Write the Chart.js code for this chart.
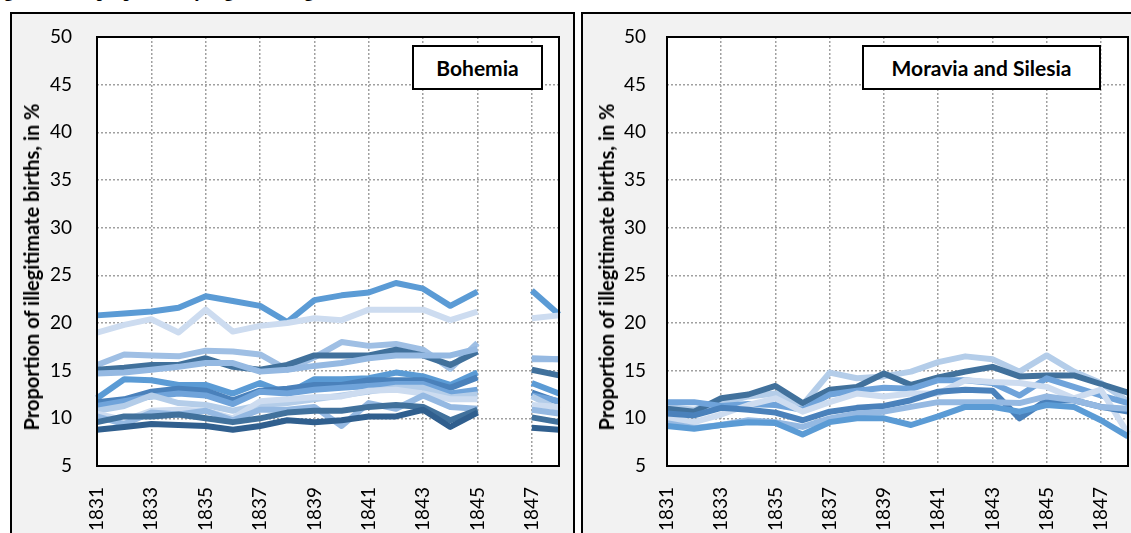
<!DOCTYPE html>
<html>
<head>
<meta charset="utf-8">
<script src="https://cdn.jsdelivr.net/npm/chart.js@4.4.1/dist/chart.umd.min.js"></script>
<style>
  html,body{margin:0;padding:0;background:#fff;}
  body{width:1131px;height:533px;overflow:hidden;position:relative;font-family:Lato,"Open Sans",sans-serif;}
  .caption{position:absolute;left:-12px;top:-18px;font:bold 18px "Liberation Serif",serif;line-height:18px;white-space:nowrap;color:#000;}
  .panel{position:absolute;top:12px;height:560px;border:2px solid #000;background:#f2f2f2;box-sizing:border-box;}
  #p1{left:10px;width:565px;}
  #p2{left:581px;width:620px;}
  canvas{position:absolute;}
  #c1{left:10px;top:12px;}
  #c2{left:582px;top:12px;}
  .ytitle{position:absolute;transform:translate(-50%,-50%) rotate(-90deg);font-weight:bold;font-size:20px;white-space:nowrap;color:#000;}
  .legend{position:absolute;top:45px;height:45px;background:#fff;border:2px solid #000;box-sizing:border-box;font-weight:bold;font-size:21px;display:flex;align-items:center;justify-content:center;color:#000;}
</style>
</head>
<body>
<div class="caption">Figure 2: The proportion by region of illegitimate births, Bohemia and Moravia</div>
<div class="panel" id="p1"></div>
<div class="panel" id="p2"></div>
<canvas id="c1" width="564" height="521"></canvas>
<canvas id="c2" width="549" height="521"></canvas>
<div class="ytitle" style="left:31px;top:267px;">Proportion of illegitimate births, in %</div>
<div class="ytitle" style="left:606px;top:267px;">Proportion of illegitimate births, in %</div>
<div class="legend" style="left:412px;width:131px;">Bohemia</div>
<div class="legend" style="left:862px;width:239px;">Moravia and Silesia</div>
<script>
// ---- data ----
const years = ['1831','1832','1833','1834','1835','1836','1837','1838','1839','1840','1841','1842','1843','1844','1845','1846','1847','1848'];
const yTicks = [5,10,15,20,25,30,35,40,45,50];

// Bohemia regions (no data for 1846)
const bohA = [20.8,21.0,21.2,21.6,22.8,22.3,21.8,20.1,22.4,22.9,23.2,24.2,23.6,21.8,23.3,null,23.4,20.9];
const bohB = [19.0,19.8,20.4,19.0,21.4,19.1,19.7,20.0,20.5,20.3,21.4,21.4,21.4,20.3,21.2,null,20.5,20.8];
const bohC = [15.6,16.7,16.6,16.5,17.1,17.0,16.7,15.1,16.4,18.0,17.6,17.8,17.2,15.2,17.9,null,16.2,16.2];
const bohD = [15.1,15.3,15.6,15.6,16.3,15.4,15.1,15.6,16.6,16.6,16.6,17.2,16.6,15.6,17.0,null,15.1,14.5];
const bohE = [14.7,14.8,15.1,15.4,15.8,15.8,14.9,15.1,15.5,15.8,16.3,16.6,16.6,16.6,17.3,null,16.3,16.2];
const bohF = [12.1,14.1,14.0,13.5,13.5,12.6,13.7,12.6,14.1,14.1,14.2,14.8,14.4,13.5,14.8,null,13.7,12.6];
const bohG = [11.7,12.0,12.8,13.1,12.9,11.9,12.9,13.1,13.5,13.5,14.0,14.0,14.0,13.2,14.3,null,12.7,11.7];
const bohH = [11.3,11.8,12.3,12.6,12.4,11.5,12.8,12.6,13.0,13.2,13.4,13.6,13.6,12.6,13.0,null,12.4,11.8];
const bohI = [10.8,11.3,12.4,11.6,11.4,10.8,11.4,11.6,12.0,12.4,12.8,13.2,13.2,12.2,12.5,null,12.3,10.9];
const bohJ = [10.5,9.8,10.8,10.9,10.8,10.0,11.8,12.0,12.2,12.3,12.9,13.0,12.6,12.0,12.0,null,11.4,11.2];
const bohK = [10.2,9.4,10.6,10.4,10.8,9.8,10.9,10.9,11.2,9.2,11.6,11.0,12.4,11.2,11.0,null,10.9,10.5];
const bohL = [9.6,10.2,10.2,10.4,10.0,9.6,10.0,10.6,10.8,10.8,11.2,11.4,11.2,9.8,10.9,null,10.1,9.6];
const bohM = [8.8,9.1,9.4,9.3,9.2,8.8,9.2,9.8,9.6,9.8,10.2,10.2,10.9,9.1,10.6,null,9.0,8.8];

// Moravia and Silesia regions
const morA = [11.7,11.7,11.3,11.5,11.4,10.9,12.5,12.9,13.2,13.1,14.0,14.0,13.7,12.4,14.2,13.3,12.4,11.6];
const morB = [11.0,10.7,12.1,12.5,13.4,11.6,13.0,13.3,14.7,13.5,14.3,14.9,15.4,14.4,14.5,14.5,13.6,12.7];
const morC = [11.2,10.9,11.6,12.3,12.6,11.4,14.8,14.2,14.4,14.9,15.9,16.5,16.2,14.9,16.6,14.9,13.7,11.8];
const morD = [10.0,9.6,10.4,11.4,12.1,10.7,11.7,12.6,12.3,12.6,12.6,14.0,13.8,13.7,13.3,12.1,13.0,8.4];
const morE = [10.5,10.3,11.1,10.9,10.6,9.8,10.7,11.1,11.3,11.9,12.8,13.0,12.9,10.0,11.9,11.9,11.2,10.7];
const morF = [9.5,9.0,9.3,9.8,9.6,9.1,10.0,10.5,10.7,11.2,11.7,11.7,11.7,11.6,12.3,11.9,11.2,11.0];
const morG = [9.2,8.9,9.3,9.6,9.5,8.3,9.6,10.0,10.0,9.3,10.2,11.2,11.2,10.7,11.4,11.2,9.8,8.1];

// colours
const cMed = '#5b9bd5', cDark = '#41719c', cDarker = '#305f8e', cMidDark = '#4a81bb',
      cMidLight = '#6fa3da', cLightMed = '#95b9e2', cLight = '#b4cde9', cVLight = '#cddcf0';

const bohSeries = [
  [bohM, cDarker],[bohL, cDark],[bohK, cLightMed],[bohJ, cVLight],[bohI, cLight],
  [bohH, cMidLight],[bohG, cMidDark],[bohF, cMed],[bohE, cLightMed],[bohD, cDark],
  [bohC, '#9fbfe4'],[bohB, cVLight],[bohA, cMed]
];
const morSeries = [
  [morG, cMed],[morF, cLightMed],[morE, cMidDark],[morD, cVLight],
  [morA, cMidLight],[morB, cDark],[morC, cLight]
];

const frame = {
  id:'frame',
  beforeDraw(chart){
    const a = chart.chartArea, ctx = chart.ctx;
    ctx.save(); ctx.fillStyle = '#fff';
    ctx.fillRect(a.left, a.top, a.right - a.left, a.bottom - a.top);
    ctx.restore();
  },
  afterDraw(chart){
    const a = chart.chartArea, ctx = chart.ctx;
    ctx.save(); ctx.strokeStyle = '#000'; ctx.lineWidth = 2;
    ctx.strokeRect(a.left, a.top, a.right - a.left, a.bottom - a.top);
    ctx.restore();
  }
};

function zeroPad(s){ s.paddingLeft = 0; s.paddingRight = 0; s.paddingTop = 0; s.paddingBottom = 0; }

function makeChart(id, series, opts){
  const datasets = series.map(([d, c]) => ({
    data: d, borderColor: c, backgroundColor: c, borderWidth: 6,
    pointRadius: 0, pointHoverRadius: 0, tension: 0, spanGaps: false,
    borderJoinStyle: 'round', borderCapStyle: 'butt', fill: false
  }));
  return new Chart(document.getElementById(id), {
    type: 'line',
    data: { labels: years, datasets },
    plugins: [frame],
    options: {
      responsive: false, animation: false, devicePixelRatio: 1,
      layout: { padding: { left: 0, top: 25, right: opts.right, bottom: 0 } },
      plugins: { legend: { display: false }, tooltip: { enabled: false } },
      scales: {
        x: {
          type: 'category', offset: false,
          grid: { drawTicks: false, lineWidth: 1.5,
                  color: c => (c.index % 2 === 0 && c.index > 0) ? '#a0a0a0' : 'rgba(0,0,0,0)' },
          border: { display: false, dash: [2, 2] },
          ticks: { autoSkip: false, minRotation: 90, maxRotation: 90, padding: 21,
                   color: '#000', font: { family: 'Lato', size: 19 },
                   callback: function(v, i){ return i % 2 === 0 ? this.getLabelForValue(v) : ''; } },
          afterFit: s => { s.height = 67; zeroPad(s); }
        },
        y: {
          min: 5, max: 50,
          afterBuildTicks: s => { s.ticks = yTicks.map(v => ({ value: v })); },
          grid: { drawTicks: false, lineWidth: 1.5,
                  color: c => (c.tick && c.tick.value > 5 && c.tick.value < 50) ? '#a0a0a0' : 'rgba(0,0,0,0)' },
          border: { display: false, dash: [2, 2] },
          ticks: { padding: opts.ypad, color: '#000', font: { family: 'Lato', size: 19 } },
          afterFit: s => { s.width = opts.left; zeroPad(s); }
        }
      }
    }
  });
}

makeChart('c1', bohSeries, { left: 87, right: 15, ypad: 25 });
makeChart('c2', morSeries, { left: 85, right: 3, ypad: 21 });
</script>
</body>
</html>
